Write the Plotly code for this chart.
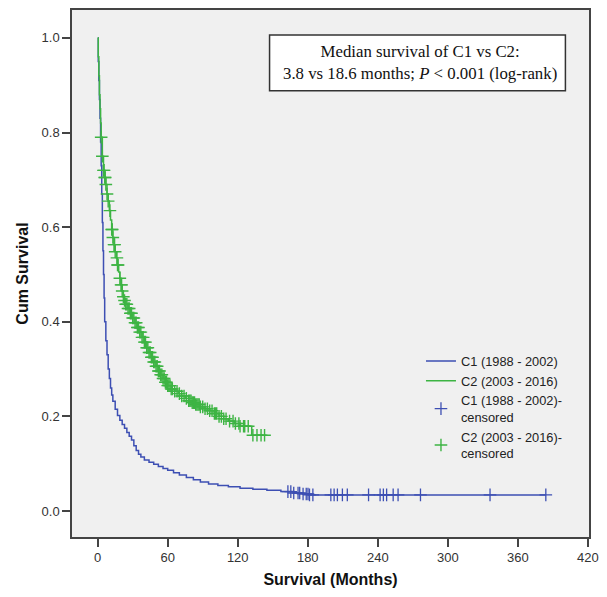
import numpy as np
import plotly.graph_objects as go

# ---- data ----
c1_time = [0, 0.5, 1, 1.5, 2, 2.5, 3, 3.5, 4, 4.5, 5, 5.5, 6, 7, 8, 9, 10, 11, 12, 13, 15, 17, 19, 21, 23, 25,
           27, 29, 31, 33, 35, 37, 40, 44, 48, 52, 56, 60, 65, 70, 76, 82, 88, 95, 103, 112, 122, 133, 145,
           157, 168, 176, 181]
c1_surv = [1.0, 0.95, 0.91, 0.87, 0.83, 0.78, 0.73, 0.67, 0.61, 0.55, 0.50, 0.45, 0.40, 0.36, 0.33, 0.30, 0.28,
           0.26, 0.245, 0.232, 0.215, 0.202, 0.192, 0.183, 0.175, 0.166, 0.158, 0.150, 0.138, 0.128, 0.120,
           0.114, 0.108, 0.103, 0.099, 0.094, 0.090, 0.086, 0.081, 0.076, 0.071, 0.066, 0.061, 0.057, 0.054,
           0.051, 0.048, 0.046, 0.044, 0.041, 0.038, 0.036, 0.034]
c1_end = 384
c1_censor = [163, 165.5, 168, 171.7, 173.1, 176, 178.7, 180.2, 181.5, 184.4, 199.8, 202.6, 205.4, 209.7,
             213.9, 232.1, 242, 244.8, 247.6, 253.2, 257.4, 276.6, 336.2, 384]

c2_time = [0, 0.5, 1, 1.5, 2, 2.5, 3, 4, 5, 6, 7, 8, 9, 10, 11, 12, 13, 14, 15, 16, 17, 18, 19, 20, 21, 22,
           23, 24, 26, 28, 30, 32, 34, 36, 38, 40, 42, 44, 46, 48, 50, 52, 54, 56, 58, 60, 63, 66, 69, 72, 75,
           78, 81, 84, 88, 92, 96, 100, 104, 108, 112, 117, 122, 132]
c2_surv = [1.0, 0.96, 0.92, 0.88, 0.85, 0.82, 0.79, 0.75, 0.72, 0.705, 0.69, 0.67, 0.655, 0.635, 0.615, 0.595,
           0.578, 0.563, 0.548, 0.535, 0.52, 0.505, 0.492, 0.478, 0.465, 0.453, 0.445, 0.437, 0.428, 0.418,
           0.408, 0.398, 0.388, 0.378, 0.367, 0.357, 0.345, 0.335, 0.325, 0.315, 0.306, 0.296, 0.288, 0.28,
           0.272, 0.265, 0.258, 0.253, 0.248, 0.243, 0.238, 0.233, 0.229, 0.225, 0.22, 0.216, 0.212, 0.206,
           0.2, 0.195, 0.19, 0.185, 0.179, 0.16]
c2_end = 144
c2_censor = [3, 4, 5, 5.5, 6, 6.5, 7, 8, 9, 10.5, 12, 12.5, 13, 14, 14.5, 15, 16.5, 17, 17.5, 19, 20, 20.5,
             21, 22, 23, 24, 25, 26, 27, 28, 29, 30, 31, 32, 33, 34, 35, 36, 37, 38, 39, 40, 41, 42, 43, 44,
             45, 46, 47, 48, 49, 50, 51, 52, 53, 54, 55, 56, 57, 58, 59, 60, 61, 62, 63, 64, 66, 68, 70, 72,
             74, 76, 78, 79, 80, 81, 82, 83, 84, 85, 86, 87, 88, 90, 92, 94, 96, 98, 100, 101, 102, 104, 106,
             108, 110, 113, 116, 118, 121, 122, 125, 126, 129, 133, 136.5, 140, 143]

x_ticks = [0, 60, 120, 180, 240, 300, 360, 420]
y_ticks = [0.0, 0.2, 0.4, 0.6, 0.8, 1.0]

names = ["C1 (1988 - 2002)", "C2 (2003 - 2016)"]
BLUE = "#3d4fb3"
GREEN = "#3db443"


def step_value(times, surv, at):
    idx = np.searchsorted(np.array(times), np.array(at), side="right") - 1
    return np.array(surv)[idx]


fig = go.Figure()
fig.add_trace(go.Scatter(x=c1_time + [c1_end], y=c1_surv + [c1_surv[-1]], mode="lines",
                         line=dict(color=BLUE, width=1.5, shape="hv"), name=names[0]))
fig.add_trace(go.Scatter(x=c2_time + [c2_end], y=c2_surv + [c2_surv[-1]], mode="lines",
                         line=dict(color=GREEN, width=1.5, shape="hv"), name=names[1]))
fig.add_trace(go.Scatter(x=c1_censor, y=step_value(c1_time, c1_surv, c1_censor), mode="markers",
                         marker=dict(symbol="cross-thin", size=9, line=dict(color=BLUE, width=1.3)),
                         name=names[0] + "-<br>censored"))
fig.add_trace(go.Scatter(x=c2_censor, y=step_value(c2_time, c2_surv, c2_censor), mode="markers",
                         marker=dict(symbol="cross-thin", size=9, line=dict(color=GREEN, width=1.4)),
                         name=names[1] + "-<br>censored"))

axis_common = dict(showline=True, mirror=True, linecolor="#444", linewidth=1.5, ticks="outside",
                   ticklen=8, tickwidth=1.5, tickcolor="#444", showgrid=False, zeroline=False,
                   tickfont=dict(family="Arial, Liberation Sans", size=13, color="#333"))

fig.update_layout(
    width=607, height=597,
    margin=dict(l=72, r=9, t=8, b=60),
    paper_bgcolor="white", plot_bgcolor="#f0f0f0",
    xaxis=dict(range=[-22, 421], tickvals=x_ticks,
               title=dict(text="<b>Survival (Months)</b>", standoff=9,
                          font=dict(family="Arial, Liberation Sans", size=16, color="#111")),
               **axis_common),
    yaxis=dict(range=[-0.055, 1.059], tickvals=y_ticks, tickformat=".1f",
               title=dict(text="<b>Cum Survival</b>", standoff=9,
                          font=dict(family="Arial, Liberation Sans", size=16, color="#111")),
               **axis_common),
    legend=dict(x=0.675, y=0.362, xanchor="left", yanchor="top", bgcolor="rgba(0,0,0,0)",
                font=dict(family="Arial, Liberation Sans", size=12.8, color="#222"),
                tracegroupgap=0, itemwidth=30),
    showlegend=True,
)

fig.add_shape(type="rect", xref="paper", yref="paper",
              x0=(273 - 72) / 526, x1=(574 - 72) / 526, y0=(537 - 89) / 529, y1=(537 - 33) / 529,
              line=dict(color="#333", width=1.5), fillcolor="white", layer="above")
fig.add_annotation(xref="paper", yref="paper", x=(426 - 72) / 526, y=(537 - 61) / 529,
                   xanchor="center", yanchor="middle",
                   text="Median survival of C1 vs C2:<br>3.8 vs 18.6 months; <i>P</i> < 0.001 (log-rank)",
                   showarrow=False, align="center",
                   font=dict(family="Liberation Serif, Times New Roman, serif", size=16.8, color="#111"))

fig.write_html("out.html", config={"displayModeBar": False},
               post_script="document.body.style.margin='0';")
